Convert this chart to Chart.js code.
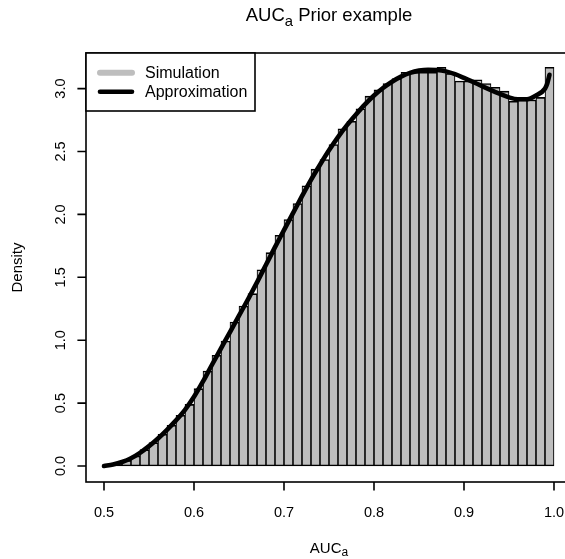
<!DOCTYPE html>
<html>
<head>
<meta charset="utf-8">
<script src="https://cdn.jsdelivr.net/npm/chart.js@4.4.1/dist/chart.umd.min.js"></script>
<style>
  html, body { margin: 0; padding: 0; overflow: hidden; background: #fff; }
  canvas { display: block; }
</style>
</head>
<body>
<canvas id="hist" width="600" height="559"></canvas>
<script>
// histogram bins: left edge of first bin and bin width
const binStart = 0.5;
const binWidth = 0.01;

// simulated density, one value per bin (0.50 .. 1.00)
const simDensity = [
  0.005, 0.02, 0.045, 0.08, 0.13, 0.186, 0.252, 0.324, 0.403, 0.49,
  0.615, 0.755, 0.88, 0.994, 1.145, 1.272, 1.37, 1.56, 1.696, 1.834,
  1.959, 2.086, 2.227, 2.36, 2.436, 2.555, 2.68, 2.74, 2.84, 2.94,
  2.99, 3.04, 3.08, 3.13, 3.13, 3.13, 3.13, 3.17, 3.12, 3.06,
  3.06, 3.07, 3.04, 3.01, 2.98, 2.90, 2.91, 2.91, 2.93, 3.17
];

// approximation curve
const approxX = [
  0.50, 0.51, 0.52, 0.53, 0.54, 0.55, 0.56, 0.57, 0.58, 0.59,
  0.60, 0.61, 0.62, 0.63, 0.64, 0.65, 0.66, 0.67, 0.68, 0.69,
  0.70, 0.71, 0.72, 0.73, 0.74, 0.75, 0.76, 0.77, 0.78, 0.79,
  0.80, 0.81, 0.82, 0.83, 0.84, 0.85, 0.86, 0.87, 0.88, 0.89,
  0.90, 0.91, 0.92, 0.93, 0.94, 0.95, 0.96, 0.97, 0.98, 0.99,
  0.9925, 0.995
];
const approxY = [
  0, 0.012, 0.032, 0.062, 0.105, 0.158, 0.219, 0.288, 0.363, 0.447,
  0.55, 0.672, 0.805, 0.935, 1.065, 1.195, 1.325, 1.46, 1.6, 1.74,
  1.875, 2.01, 2.145, 2.275, 2.395, 2.51, 2.615, 2.71, 2.795, 2.875,
  2.945, 3.005, 3.055, 3.095, 3.125, 3.143, 3.15, 3.148, 3.137, 3.115,
  3.085, 3.053, 3.02, 2.988, 2.958, 2.93, 2.915, 2.915, 2.945, 3.0,
  3.04, 3.11
];

const xTicks = [0.5, 0.6, 0.7, 0.8, 0.9, 1.0];
const yTicks = [0, 0.5, 1.0, 1.5, 2.0, 2.5, 3.0];

const FONT = '"Liberation Sans", Arial, Helvetica, sans-serif';
const GREY = '#BEBEBE';
const LW = 1.6; // R lwd = 1 at this resolution

// text with a subscript part, e.g. AUC_a
function subText(ctx, parts, x, y, size, align) {
  const widths = parts.map(p => {
    ctx.font = (p.sub ? size * 0.8 : size) + 'px ' + FONT;
    return ctx.measureText(p.t).width;
  });
  const total = widths.reduce((a, b) => a + b, 0);
  let cx = align === 'center' ? x - total / 2 : x;
  ctx.textAlign = 'left';
  ctx.textBaseline = 'alphabetic';
  parts.forEach((p, i) => {
    ctx.font = (p.sub ? size * 0.8 : size) + 'px ' + FONT;
    ctx.fillText(p.t, cx, p.sub ? y + size * 0.26 : y);
    cx += widths[i];
  });
}

const rAxes = {
  id: 'rAxes',
  afterDraw(chart) {
    const ctx = chart.ctx;
    const a = chart.chartArea;
    const xs = chart.scales.x, ys = chart.scales.y;
    const tick = 8.6;
    ctx.save();
    ctx.strokeStyle = '#000';
    ctx.fillStyle = '#000';
    ctx.lineWidth = LW;

    // box
    ctx.strokeRect(a.left, a.top, a.right - a.left, a.bottom - a.top);

    // x axis
    ctx.beginPath();
    xTicks.forEach(v => {
      const px = xs.getPixelForValue(v);
      ctx.moveTo(px, a.bottom);
      ctx.lineTo(px, a.bottom + tick);
    });
    ctx.stroke();
    ctx.font = '14.5px ' + FONT;
    ctx.textAlign = 'center';
    ctx.textBaseline = 'alphabetic';
    xTicks.forEach(v => ctx.fillText(v.toFixed(1), xs.getPixelForValue(v), 516.5));

    // y axis
    ctx.beginPath();
    yTicks.forEach(v => {
      const py = ys.getPixelForValue(v);
      ctx.moveTo(a.left, py);
      ctx.lineTo(a.left - tick, py);
    });
    ctx.stroke();
    yTicks.forEach(v => {
      ctx.save();
      ctx.translate(64.5, ys.getPixelForValue(v));
      ctx.rotate(-Math.PI / 2);
      ctx.fillText(v.toFixed(1), 0, 0);
      ctx.restore();
    });

    // titles
    const cx = (a.left + a.right) / 2;
    subText(ctx, [{t: 'AUC'}, {t: 'a', sub: true}, {t: ' Prior example'}], cx, 21.3, 18.5, 'center');
    subText(ctx, [{t: 'AUC'}, {t: 'a', sub: true}], cx, 552.5, 15, 'center');
    ctx.save();
    ctx.translate(22, (a.top + a.bottom) / 2);
    ctx.rotate(-Math.PI / 2);
    ctx.font = '15px ' + FONT;
    ctx.textAlign = 'center';
    ctx.fillText('Density', 0, 0);
    ctx.restore();

    // legend
    const lx = a.left, ly = a.top, lw = 169, lh = 58;
    ctx.fillStyle = '#fff';
    ctx.fillRect(lx, ly, lw, lh);
    ctx.strokeStyle = '#000';
    ctx.lineWidth = LW;
    ctx.strokeRect(lx, ly, lw, lh);
    const items = chart.data.datasets.slice().sort((p, q) => q.order - p.order);
    items.forEach((ds, i) => {
      const y = ly + 19.7 + i * 19;
      ctx.beginPath();
      ctx.lineCap = 'round';
      ctx.lineWidth = ds.type === 'bar' ? 6 : 4.6;
      ctx.strokeStyle = ds.type === 'bar' ? ds.backgroundColor : ds.borderColor;
      ctx.moveTo(lx + 14, y);
      ctx.lineTo(lx + 46, y);
      ctx.stroke();
      ctx.fillStyle = '#000';
      ctx.font = '16px ' + FONT;
      ctx.textAlign = 'left';
      ctx.textBaseline = 'middle';
      ctx.fillText(ds.label, lx + 59, y + 0.5);
    });
    ctx.restore();
  }
};

new Chart(document.getElementById('hist'), {
  type: 'bar',
  data: {
    datasets: [
      {
        type: 'line',
        label: 'Approximation',
        data: approxX.map((x, i) => ({x, y: approxY[i]})),
        borderColor: '#000',
        borderWidth: 4.6,
        borderCapStyle: 'round',
        borderJoinStyle: 'round',
        pointRadius: 0,
        cubicInterpolationMode: 'monotone',
        fill: false,
        order: 0
      },
      {
        type: 'bar',
        label: 'Simulation',
        data: simDensity.map((v, i) => ({x: binStart + binWidth * (i + 0.5), y: v})),
        backgroundColor: GREY,
        borderColor: '#000',
        borderWidth: {top: LW, left: 1.1, right: 1.1, bottom: LW},
        borderSkipped: false,
        barPercentage: 1,
        categoryPercentage: 1,
        order: 1
      }
    ]
  },
  options: {
    responsive: false,
    animation: false,
    layout: { padding: { left: 86, right: 28, top: 53, bottom: 77 } },
    scales: {
      x: { type: 'linear', min: 0.48, max: 1.02, offset: false, display: false },
      y: { type: 'linear', min: -0.127, max: 3.283, display: false }
    },
    plugins: { legend: { display: false }, tooltip: { enabled: false } }
  },
  plugins: [rAxes]
});
</script>
</body>
</html>
